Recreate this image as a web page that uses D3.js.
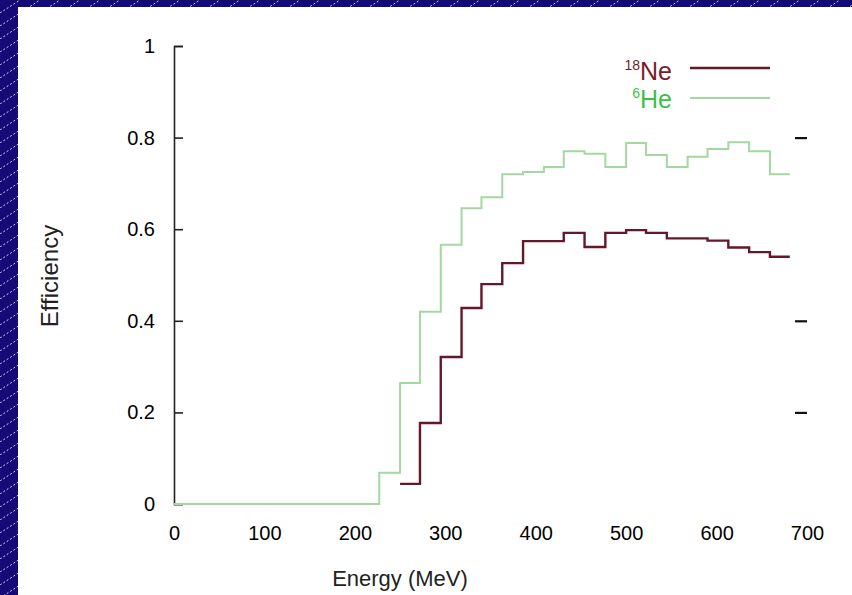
<!DOCTYPE html>
<html>
  <head>
    <meta charset="utf-8">
    <title>Efficiency vs energy</title>
    <script src="https://cdn.jsdelivr.net/npm/d3@7"></script>
    <style>
      body { margin: 0; }
      svg { display: block; font-family: "Liberation Sans", Arial, sans-serif; }
    </style>
  </head>

  <body>
    <svg id="chart" width="852" height="595"></svg>

    <script>
      // bin edges (MeV); each value holds from its edge to the next one
      energyEdges = [0, 227, 250, 272, 295, 318, 340, 363, 386, 409, 431, 454, 477, 500, 522, 545, 568, 590, 613, 636, 659, 681];
      neValues = [0, 0, 0.044, 0.177, 0.321, 0.428, 0.48, 0.526, 0.574, 0.574, 0.592, 0.561, 0.592, 0.598, 0.592, 0.58, 0.58, 0.575, 0.56, 0.55, 0.54];
      heValues = [0, 0.068, 0.264, 0.42, 0.566, 0.646, 0.67, 0.72, 0.725, 0.736, 0.77, 0.765, 0.736, 0.788, 0.762, 0.736, 0.758, 0.775, 0.79, 0.77, 0.72];
      xTicks = [0, 100, 200, 300, 400, 500, 600, 700];
      yTicks = [0, 0.2, 0.4, 0.6, 0.8, 1];
      rightTicks = [0.2, 0.4, 0.8];

      svg = d3.select("#chart");

      // hatched blue background
      defs = svg.append("defs");
      hatch = defs.append("pattern")
        .attr("id", "hatch")
        .attr("patternUnits", "userSpaceOnUse")
        .attr("width", 20)
        .attr("height", 13);
      hatch.append("rect")
        .attr("width", 20)
        .attr("height", 13)
        .attr("fill", "#160b76");
      hatch.append("line")
        .attr("x1", 0).attr("y1", 13)
        .attr("x2", 20).attr("y2", 0)
        .attr("stroke", "#c8c8f0")
        .attr("stroke-width", 1)
        .attr("stroke-dasharray", "2,2");
      svg.append("rect")
        .attr("width", 852)
        .attr("height", 595)
        .attr("fill", "url(#hatch)");
      svg.append("rect")
        .attr("x", 18)
        .attr("y", 7)
        .attr("width", 834)
        .attr("height", 588)
        .attr("fill", "#ffffff");

      x = d3.scaleLinear().domain([0, 700]).range([174, 807]);
      y = d3.scaleLinear().domain([0, 1]).range([504, 46]);

      // left axis with inward ticks
      leftAxis = d3.axisRight(y)
        .tickValues(yTicks)
        .tickSize(9)
        .tickFormat(d3.format("~g"));
      gLeft = svg.append("g")
        .attr("transform", "translate(" + x(0) + ",0)")
        .call(leftAxis);
      gLeft.select(".domain")
        .attr("stroke", "#222")
        .attr("stroke-width", 1.6);
      gLeft.selectAll(".tick line")
        .attr("stroke", "#222")
        .attr("stroke-width", 1.6);
      gLeft.selectAll(".tick text")
        .attr("x", -19)
        .attr("text-anchor", "end")
        .attr("fill", "#000")
        .style("font-size", "20px");

      // mirrored ticks on the right
      rightAxis = d3.axisLeft(y)
        .tickValues(rightTicks)
        .tickSize(12)
        .tickFormat("");
      gRight = svg.append("g")
        .attr("transform", "translate(" + x(700) + ",0)")
        .call(rightAxis);
      gRight.select(".domain").remove();
      gRight.selectAll(".tick line")
        .attr("stroke", "#111")
        .attr("stroke-width", 2.2);

      // bottom labels only
      bottomAxis = d3.axisBottom(x)
        .tickValues(xTicks)
        .tickSize(0)
        .tickFormat(d3.format("d"));
      gBottom = svg.append("g")
        .attr("transform", "translate(0," + y(0) + ")")
        .call(bottomAxis);
      gBottom.select(".domain").remove();
      gBottom.selectAll(".tick text")
        .attr("y", 22)
        .attr("fill", "#000")
        .style("font-size", "20px");

      svg.append("text")
        .attr("x", 400)
        .attr("y", 586)
        .attr("text-anchor", "middle")
        .attr("fill", "#222")
        .style("font-size", "22px")
        .text("Energy (MeV)");
      svg.append("text")
        .attr("transform", "translate(58,276) rotate(-90)")
        .attr("text-anchor", "middle")
        .attr("fill", "#222")
        .style("font-size", "24px")
        .text("Efficiency");

      // step lines
      function steps(values, skipLeadingZeros) {
        var pts = energyEdges.map(function(e, i) { return [e, values[i]]; });
        pts.push([energyEdges[energyEdges.length - 1], values[values.length - 1]]);
        if (skipLeadingZeros) {
          var first = values.findIndex(function(v) { return v > 0; });
          pts = pts.slice(first);
        }
        return pts;
      }
      line = d3.line()
        .x(function(d) { return x(d[0]); })
        .y(function(d) { return y(d[1]); })
        .curve(d3.curveStepAfter);

      svg.append("path")
        .datum(steps(heValues, false))
        .attr("d", line)
        .attr("fill", "none")
        .attr("stroke", "#a3d9a0")
        .attr("stroke-width", 2);
      svg.append("path")
        .datum(steps(neValues, true))
        .attr("d", line)
        .attr("fill", "none")
        .attr("stroke", "#66182a")
        .attr("stroke-width", 2.4);

      // legend
      legend = svg.append("g");
      neLabel = legend.append("text")
        .attr("x", 672)
        .attr("y", 80)
        .attr("text-anchor", "end")
        .attr("fill", "#7a1b2a")
        .style("font-size", "25px");
      neLabel.append("tspan")
        .attr("dy", -10)
        .style("font-size", "14px")
        .text("18");
      neLabel.append("tspan")
        .attr("dy", 10)
        .text("Ne");
      legend.append("line")
        .attr("x1", 690).attr("x2", 770)
        .attr("y1", 68).attr("y2", 68)
        .attr("stroke", "#66182a")
        .attr("stroke-width", 2.4);
      heLabel = legend.append("text")
        .attr("x", 672)
        .attr("y", 108)
        .attr("text-anchor", "end")
        .attr("fill", "#3fbf4a")
        .style("font-size", "25px");
      heLabel.append("tspan")
        .attr("dy", -10)
        .style("font-size", "14px")
        .text("6");
      heLabel.append("tspan")
        .attr("dy", 10)
        .text("He");
      legend.append("line")
        .attr("x1", 690).attr("x2", 770)
        .attr("y1", 98).attr("y2", 98)
        .attr("stroke", "#a3d9a0")
        .attr("stroke-width", 2);
    </script>
  </body>
</html>
